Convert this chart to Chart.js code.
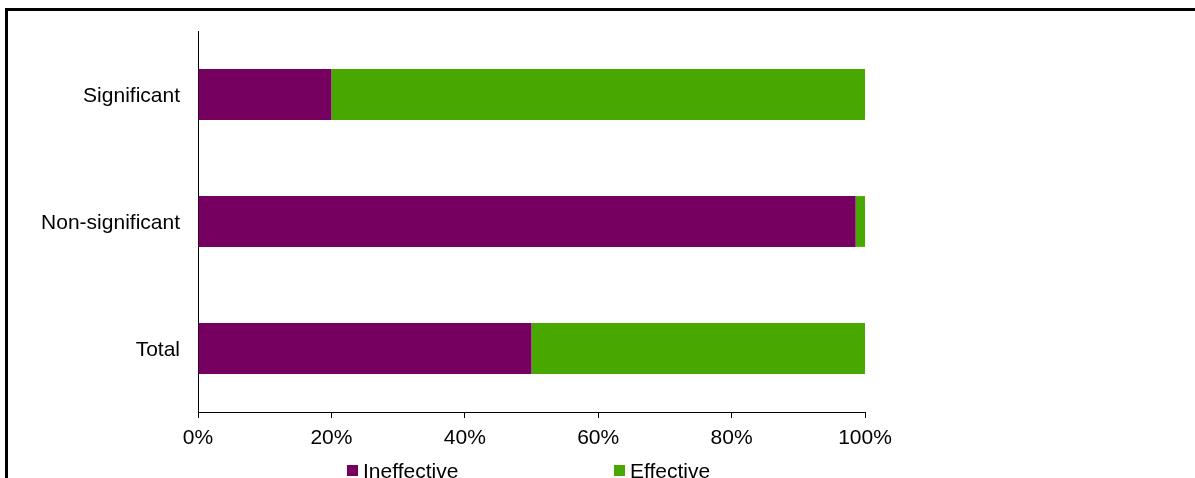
<!DOCTYPE html>
<html>
<head>
<meta charset="utf-8">
<script src="https://cdn.jsdelivr.net/npm/chart.js@4.4.0/dist/chart.umd.min.js"></script>
<style>
  html, body { margin: 0; padding: 0; background: #fff; overflow: hidden; }
  #frame {
    position: absolute; left: 5px; top: 8px; width: 1300px; height: 600px;
    border-left: 3px solid #000; border-top: 3px solid #000;
  }
  #myChart { position: absolute; left: 0; top: 0; }
</style>
</head>
<body>
<div id="frame"></div>
<canvas id="myChart" width="1195" height="478"></canvas>
<script>
// categories (top to bottom) and the share of each outcome, in percent
const categories = ['Significant', 'Non-significant', 'Total'];
const ineffective = [20, 98.6, 50];
const effective = [80, 1.4, 50];
const seriesNames = ['Ineffective', 'Effective'];
const seriesColors = ['#75005F', '#49A800'];
const tickValues = [0, 20, 40, 60, 80, 100];

const FONT = 'Liberation Sans, Arial, sans-serif';

// legend drawn under the axis, spread out like the original office chart
const wideLegend = {
  id: 'wideLegend',
  afterDraw(chart) {
    const { ctx, chartArea } = chart;
    const offsets = [149, 416];
    ctx.save();
    ctx.font = '21px ' + FONT;
    ctx.textBaseline = 'alphabetic';
    chart.data.datasets.forEach((ds, i) => {
      const x = chartArea.left + offsets[i];
      ctx.fillStyle = ds.backgroundColor;
      ctx.fillRect(x, 465, 11, 11);
      ctx.fillStyle = '#000';
      ctx.fillText(ds.label, x + 16, 478);
    });
    ctx.restore();
  }
};

const ctx = document.getElementById('myChart');
const myChart = new Chart(ctx, {
  type: 'bar',
  data: {
    labels: categories,
    datasets: [
      {
        label: seriesNames[0],
        data: ineffective,
        backgroundColor: seriesColors[0],
        borderWidth: 0,
        barPercentage: 1,
        categoryPercentage: 0.4
      },
      {
        label: seriesNames[1],
        data: effective,
        backgroundColor: seriesColors[1],
        borderWidth: 0,
        barPercentage: 1,
        categoryPercentage: 0.4
      }
    ]
  },
  options: {
    indexAxis: 'y',
    responsive: false,
    animation: false,
    layout: { padding: { top: 31, right: 330, left: 0, bottom: 0 } },
    plugins: {
      legend: { display: false },
      tooltip: { enabled: false }
    },
    scales: {
      x: {
        stacked: true,
        min: 0,
        max: 100,
        afterBuildTicks(scale) {
          scale.ticks = tickValues.map(v => ({ value: v }));
        },
        afterFit(scale) { scale.height = 66; },
        grid: {
          display: true,
          drawOnChartArea: false,
          drawTicks: true,
          tickLength: 6,
          color: '#000',
          lineWidth: 1
        },
        border: { display: true, color: '#000', width: 1 },
        ticks: {
          color: '#000',
          font: { family: FONT, size: 21 },
          padding: 8,
          maxRotation: 0,
          callback: v => v + '%'
        }
      },
      y: {
        stacked: true,
        afterFit(scale) { scale.width = 198; },
        grid: { display: false, drawTicks: false },
        border: { display: true, color: '#000', width: 1 },
        ticks: {
          color: '#000',
          font: { family: FONT, size: 21 },
          padding: 18,
          labelOffset: 1.5
        }
      }
    }
  },
  plugins: [wideLegend]
});
</script>
</body>
</html>
